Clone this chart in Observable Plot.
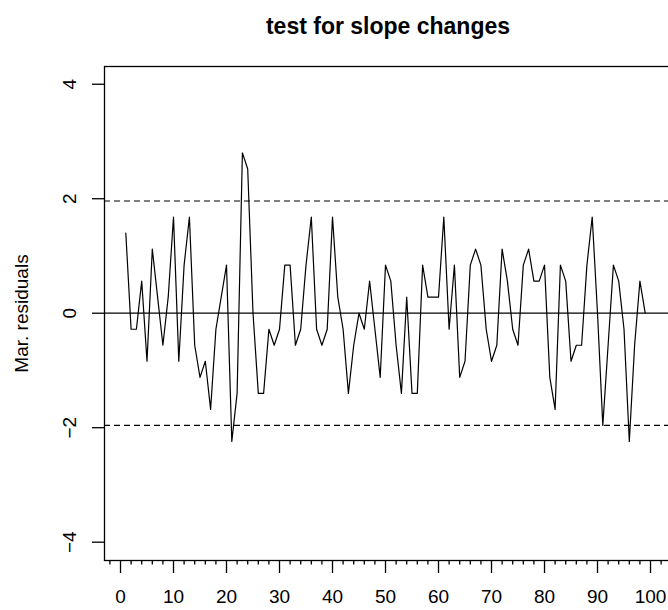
<!DOCTYPE html>
<html>
<head>
<meta charset="utf-8">
<script src="https://cdn.jsdelivr.net/npm/d3@7"></script>
<script src="https://cdn.jsdelivr.net/npm/@observablehq/plot@0.6"></script>
<style>
  html, body { margin: 0; padding: 0; background: #fff; }
  #chart svg { display: block; }
</style>
</head>
<body>
<div id="chart"></div>
<script>
// Marginal residuals, observations 1..99
const residuals = [
  1.40, -0.28, -0.28, 0.56, -0.84, 1.12, 0.28, -0.56, 0.28, 1.68,
  -0.84, 0.84, 1.68, -0.56, -1.12, -0.84, -1.68, -0.28, 0.28, 0.84,
  -2.24, -1.40, 2.80, 2.52, 0.00, -1.40, -1.40, -0.28, -0.56, -0.28,
  0.84, 0.84, -0.56, -0.28, 0.84, 1.68, -0.28, -0.56, -0.28, 1.68,
  0.28, -0.28, -1.40, -0.56, 0.00, -0.28, 0.56, -0.28, -1.12, 0.84,
  0.56, -0.56, -1.40, 0.28, -1.40, -1.40, 0.84, 0.28, 0.28, 0.28,
  1.68, -0.28, 0.84, -1.12, -0.84, 0.84, 1.12, 0.84, -0.28, -0.84,
  -0.56, 1.12, 0.56, -0.28, -0.56, 0.84, 1.12, 0.56, 0.56, 0.84,
  -1.12, -1.68, 0.84, 0.56, -0.84, -0.56, -0.56, 0.84, 1.68, 0.00,
  -1.96, -0.56, 0.84, 0.56, -0.28, -2.24, -0.56, 0.56, 0.00
];
const bounds = [-1.96, 1.96];
const xTicks = [0, 10, 20, 30, 40, 50, 60, 70, 80, 90, 100];
const xMinorTicks = [-2, 2, 4, 6, 8, 12, 14, 16, 18, 22, 24, 26, 28, 32, 34, 36, 38,
  42, 44, 46, 48, 52, 54, 56, 58, 62, 64, 66, 68, 72, 74, 76, 78, 82, 84, 86, 88,
  92, 94, 96, 98, 102];
const yTicks = [-4, -2, 0, 2, 4];
const xDomain = [-3.02, 103.96];
const yDomain = [-4.32, 4.31];
const titleText = "test for slope changes";
const yLabel = "Mar. residuals";

const font = "'Liberation Sans', Arial, Helvetica, sans-serif";
const fmt = d => (d < 0 ? "\u2212" + Math.abs(d) : String(d));

const chart = Plot.plot({
  width: 668,
  height: 610,
  marginLeft: 104,
  marginRight: -3,
  marginTop: 66,
  marginBottom: 50,
  style: { fontFamily: font, background: "#fff", color: "#000" },
  x: { domain: xDomain },
  y: { domain: yDomain },
  marks: [
    Plot.frame({ stroke: "#000", strokeWidth: 1.3 }),
    Plot.ruleY([0], { stroke: "#000", strokeWidth: 1.2 }),
    Plot.ruleY(bounds, { stroke: "#000", strokeWidth: 1.2, strokeDasharray: "6,4" }),
    Plot.lineY(residuals, { x: (d, i) => i + 1, y: d => d, stroke: "#000", strokeWidth: 1.2 }),
    Plot.axisX({ ticks: xTicks, tickSize: 13, tickPadding: 16, fontSize: 19, label: null, strokeWidth: 1.3 }),
    Plot.axisX({ ticks: xMinorTicks, tickSize: 4.5, tickFormat: () => "", label: null, strokeWidth: 1.3 }),
    Plot.axisY({ ticks: yTicks, tickSize: 12, tickFormat: () => "", label: null, strokeWidth: 1.3 }),
    Plot.text(yTicks, { y: d => d, text: fmt, frameAnchor: "left", dx: -29, rotate: -90,
      textAnchor: "middle", lineAnchor: "bottom", fontSize: 19, fill: "#000" }),
    Plot.text([yLabel], { text: d => d, frameAnchor: "left", dx: -77, rotate: -90,
      textAnchor: "middle", lineAnchor: "bottom", fontSize: 19, fill: "#000" }),
    Plot.text([titleText], { text: d => d, frameAnchor: "top", dy: -33,
      lineAnchor: "bottom", fontSize: 23, fontWeight: "bold", fill: "#000" })
  ]
});
document.getElementById("chart").appendChild(chart);
</script>
</body>
</html>
